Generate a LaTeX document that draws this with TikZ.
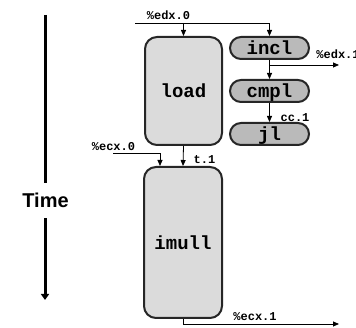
\documentclass[tikz,border=0pt]{standalone}
\usepackage{fontspec}
\newfontfamily\timefont{Liberation Sans}
\newfontfamily\codefont{Liberation Mono}
\usetikzlibrary{arrows.meta}
\begin{document}
\begin{tikzpicture}[x=1pt,y=-1pt,
  line width=0.8pt,
  tip/.style={-{Triangle[width=5pt,length=6pt]}},
  boxtext/.style={inner sep=0pt,text height=14pt,text depth=0pt,font=\codefont\bfseries\fontsize{19}{21}\selectfont},
  bigbox/.style={boxtext,draw=black!85,line width=2pt,fill=black!14,rounded corners=12pt,minimum width=77pt},
  pill/.style={boxtext,draw=black!85,line width=2pt,fill=black!27,rounded corners=11pt,minimum width=79pt,minimum height=22pt},
  lab/.style={font=\codefont\bfseries\fontsize{12}{13}\selectfont,inner sep=0pt}]
\useasboundingbox (0,0) rectangle (356,328);
\clip (0,0) rectangle (356,328);

% time axis
\node[font=\timefont\bfseries\fontsize{20}{22}\selectfont,minimum height=35pt,inner sep=0pt] (time) at (45.5,200.5) {Time};
\coordinate (ttop) at (45,15);
\coordinate (tbot) at (45,300);
\draw[line width=3pt] (ttop) -- (ttop |- time.north);
\draw[line width=3pt,-{Triangle[width=8pt,length=6pt]}] (ttop |- time.south) -- (tbot);

% boxes
\node[bigbox,minimum height=108pt] (load) at (183.5,91) {load};
\node[bigbox,minimum height=151pt,minimum width=78pt] (imull) at (183,242.5) {imull};
\node[pill] (incl) at (269.5,48) {incl};
\node[pill] (cmpl) at (269.5,91) {cmpl};
\node[pill] (jl) at (269.5,134) {jl};

% connectors
\coordinate (edxin) at (135,23);
\draw[tip] (edxin) -| (incl.north);
\draw[tip] (load.north |- edxin) -- (load.north);
\node[lab] (edx0) at (168.5,15.5) {\%edx.0};

\coordinate (edxout) at (339,65);
\draw[tip] (incl.south) -- (cmpl.north);
\draw[tip] (incl.south |- edxout) -- (edxout);
\node[lab,anchor=west] (edx1) at (316,54) {\%edx.1};

\draw[tip] (cmpl.south) -- (jl.north);
\node[lab] (cc1) at (295,117.5) {cc.1};

\draw[tip] (load.south) -- (imull.north);
\node[lab] (t1) at (204.5,160) {t.1};

\coordinate (ecxin) at (113,153);
\draw[tip] (ecxin) -| ([xshift=-23pt]imull.north);
\node[lab] (ecx0) at (113.5,147) {\%ecx.0};

\coordinate (ecxout) at (339,324);
\draw[tip] (imull.south) |- (ecxout);
\node[lab] (ecx1) at (255,317) {\%ecx.1};
\end{tikzpicture}
\end{document}
